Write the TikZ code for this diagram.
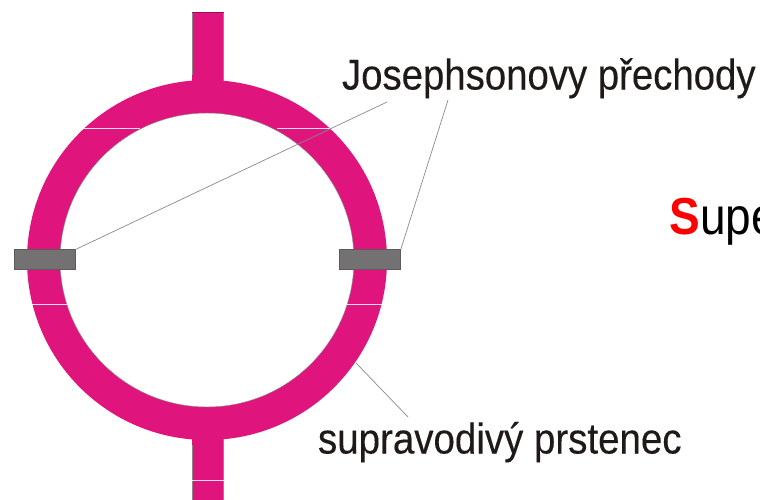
\documentclass[tikz,border=0pt]{standalone}
\usepackage{fontspec}
\setmainfont{Liberation Sans}
\newfontfamily\labelfont[FakeBold=0.25]{Liberation Sans}
\definecolor{ringc}{HTML}{DF147D}
\definecolor{gatec}{HTML}{737172}
\definecolor{inkc}{HTML}{1F1A17}
\definecolor{edgec}{HTML}{8A8A8A}
\tikzset{
  x=1pt,y=-1pt,
  gate/.style={draw=gatec!80!black,line width=.6pt,fill=gatec,minimum width=61.5pt,minimum height=19.5pt,inner sep=0pt,outer sep=0pt},
  leader/.style={draw=edgec,line width=.7pt},
  cut/.style={draw=white!85!ringc,line width=.7pt},
  stem/.style={fill=ringc,draw=edgec,line width=.45pt},
  label/.style={inner sep=0pt,outer sep=0pt,anchor=base west,text=inkc}
}
\begin{document}
\begin{tikzpicture}
\useasboundingbox (0,0) rectangle (760,499);
\clip (0,0) rectangle (760,499);
% stems
\draw[stem] (192,12) rectangle (223.5,90);
\draw[stem] (192,430) rectangle (223.5,505);
% ring
\fill[ringc,even odd rule] (207,260) circle[radius=180] (207,260) circle[radius=147];
\draw[edgec,line width=.45pt] (207,260) circle[radius=147];
\fill[ringc] (192.25,75) rectangle (223.25,100);
\fill[ringc] (192.25,425) rectangle (223.25,445);
\draw[ringc!70!black,line width=.6pt] (192,12) -- (223.5,12);
% hairline cuts
\draw[cut] (84,128) -- (140,128);
\draw[cut] (277,128) -- (330,128);
\draw[cut] (32,304) -- (67,304);
\draw[cut] (347,304) -- (382,304);
\draw[cut] (192,480.5) -- (223.5,480.5);
% junctions
\node[gate] (jl) at (44.75,259.25) {};
\node[gate] (jr) at (370,259.25) {};
% labels
\node[label,font=\labelfont\fontsize{43}{43}\selectfont,xscale=.892] (jos) at (342,89.5) {Josephsonovy přechody};
\node[label,font=\labelfont\fontsize{43}{43}\selectfont,xscale=.895] (sup) at (318,453.5) {supravodivý prstenec};
\node[inner sep=0pt,outer sep=0pt,anchor=base west,font=\fontsize{52}{52}\selectfont,xscale=.885] (title) at (669.5,234) {\textcolor{red}{\textbf{S}}\textcolor{black}{upe}};
% leader ends
\coordinate (a) at (387,102);
\coordinate (b) at (448,100);
\coordinate (c) at (356,363);
\coordinate (d) at (408,417);
\draw[leader] (jl.north east) -- (a);
\draw[leader] (jr.north east) -- (b);
\draw[leader] (c) -- (d);
\end{tikzpicture}
\end{document}
